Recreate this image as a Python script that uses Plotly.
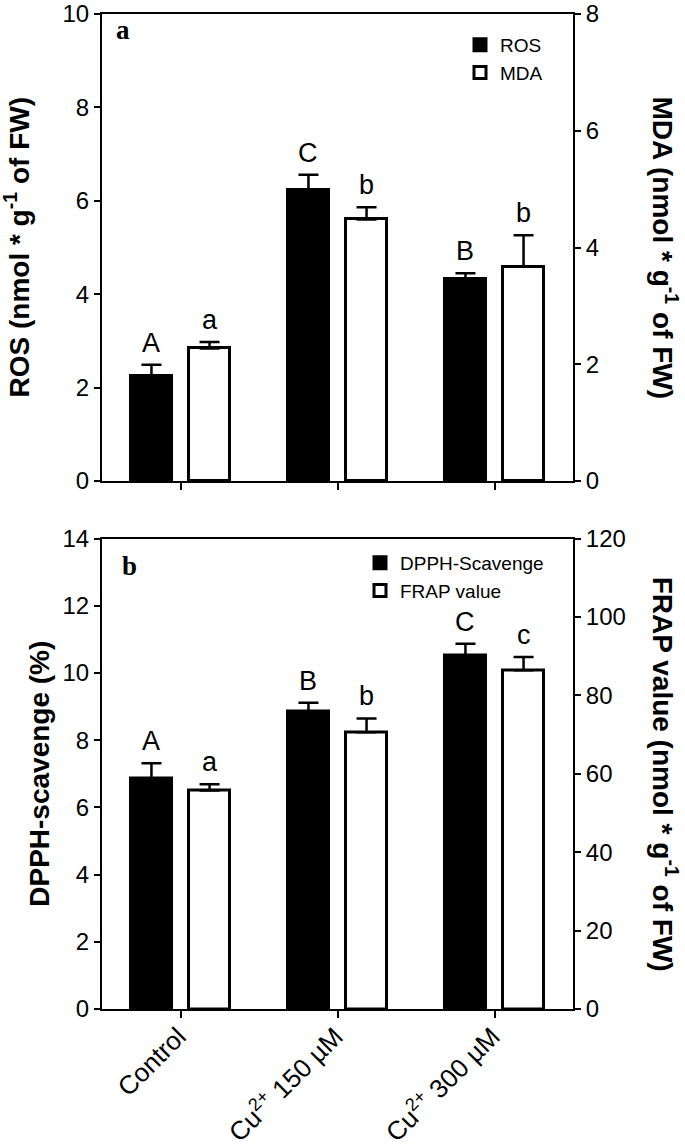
import plotly.graph_objects as go

# ---------------- data ----------------
categories = ["Control", "Cu<sup>2+</sup> 150 µM", "Cu<sup>2+</sup> 300 µM"]

ros = [2.24, 6.23, 4.33]
ros_err = [0.25, 0.33, 0.12]
ros_letters = ["A", "C", "B"]

mda = [2.27, 4.48, 3.67]
mda_err = [0.11, 0.21, 0.54]
mda_letters = ["a", "b", "b"]

dpph = [6.85, 8.84, 10.51]
dpph_err = [0.46, 0.27, 0.36]
dpph_letters = ["A", "B", "C"]

frap = [55.7, 70.6, 86.4]
frap_err = [1.6, 3.5, 3.4]
frap_letters = ["a", "b", "c"]

# ---------------- layout helpers ----------------
W, H = 685, 1145
def px(x):
    return x / W
def py(y):
    return 1 - y / H

FONT = "Arial, Liberation Sans, sans-serif"
BAR_W = 0.26
OFF_L = -0.315
OFF_R = 0.055
LINE_W = 2.5

fig = go.Figure()

def add_bars(vals, errs, fill, name, xax, yax, offset, legend):
    fig.add_trace(go.Bar(
        x=categories, y=vals, name=name,
        xaxis=xax, yaxis=yax,
        width=BAR_W, offset=offset,
        marker=dict(color=fill, line=dict(color="black", width=LINE_W + 0.5)),
        error_y=dict(type="data", array=errs, arrayminus=[0] * len(errs),
                     symmetric=False, color="black", thickness=LINE_W, width=10),
        legend=legend,
    ))

add_bars(ros, ros_err, "black", "ROS", "x", "y", OFF_L, "legend")
add_bars(mda, mda_err, "white", "MDA", "x", "y2", OFF_R, "legend")
add_bars(dpph, dpph_err, "black", "DPPH-Scavenge", "x2", "y3", OFF_L, "legend2")
add_bars(frap, frap_err, "white", "FRAP value", "x2", "y4", OFF_R, "legend2")

annotations = []
def add_letters(vals, errs, letters, offset, xref, yref):
    for i, (v, e, t) in enumerate(zip(vals, errs, letters)):
        annotations.append(dict(
            x=i + offset + BAR_W / 2, y=v + e, xref=xref, yref=yref,
            text=t, showarrow=False, yanchor="bottom", xanchor="center",
            yshift=5, font=dict(family=FONT, size=27, color="black")))

add_letters(ros, ros_err, ros_letters, OFF_L, "x", "y")
add_letters(mda, mda_err, mda_letters, OFF_R, "x", "y2")
add_letters(dpph, dpph_err, dpph_letters, OFF_L, "x2", "y3")
add_letters(frap, frap_err, frap_letters, OFF_R, "x2", "y4")

TOP = (14, 481)
BOT = (538.5, 1009)

def title(text, x, yc, angle):
    annotations.append(dict(
        x=px(x), y=py(yc), xref="paper", yref="paper", text=text,
        textangle=angle, showarrow=False, xanchor="center", yanchor="middle",
        font=dict(family=FONT, size=28, color="black", weight="bold")))

title("ROS (nmol * g<sup>-1</sup> of FW)", 17, (TOP[0] + TOP[1]) / 2, -90)
title("MDA (nmol * g<sup>-1</sup> of FW)", 665, (TOP[0] + TOP[1]) / 2, 90)
title("DPPH-scavenge (%)", 40, (BOT[0] + BOT[1]) / 2, -90)
title("FRAP value (nmol * g<sup>-1</sup> of FW)", 665, (BOT[0] + BOT[1]) / 2, 90)

for t, x, y in [("a", 123, 30), ("b", 129, 566)]:
    annotations.append(dict(
        x=px(x), y=py(y), xref="paper", yref="paper", text=t, showarrow=False,
        xanchor="center", yanchor="middle",
        font=dict(family="Times New Roman, Liberation Serif, serif", size=27,
                  color="black", weight="bold")))

axis_common = dict(showline=True, linecolor="black", linewidth=2, ticks="outside",
                   tickcolor="black", tickwidth=2, showgrid=False, zeroline=False,
                   automargin=False)
ytick_font = dict(family=FONT, size=24, color="black")

xdom = [px(102), px(573)]
fig.update_layout(
    width=W, height=H, margin=dict(l=0, r=0, t=0, b=0),
    paper_bgcolor="white", plot_bgcolor="white",
    barmode="overlay", bargap=0,
    xaxis=dict(domain=xdom, anchor="y", type="category", range=[-0.5, 2.5],
               showticklabels=False, mirror=True, ticklen=7, **axis_common),
    yaxis=dict(domain=[py(TOP[1]), py(TOP[0])], anchor="x", range=[0, 10],
               dtick=2, ticklen=6, tickfont=ytick_font, **axis_common),
    yaxis2=dict(overlaying="y", side="right", anchor="x", range=[0, 8], dtick=2,
                ticklen=6, tickfont=ytick_font, **axis_common),
    xaxis2=dict(domain=xdom, anchor="y3", type="category", range=[-0.5, 2.5],
                tickangle=-45, tickfont=dict(family=FONT, size=26, color="black"),
                ticklabelstandoff=-7, ticklabelshift=-2,
                mirror=True, ticklen=7, **axis_common),
    yaxis3=dict(domain=[py(BOT[1]), py(BOT[0])], anchor="x2", range=[0, 14],
                dtick=2, ticklen=6, tickfont=ytick_font, **axis_common),
    yaxis4=dict(overlaying="y3", side="right", anchor="x2", range=[0, 120],
                dtick=20, ticklen=6, tickfont=ytick_font, **axis_common),
    legend=dict(x=px(460), y=py(26), xanchor="left", yanchor="top",
                font=dict(family=FONT, size=19, color="black"),
                bgcolor="rgba(0,0,0,0)", traceorder="normal"),
    legend2=dict(x=px(360), y=py(544), xanchor="left", yanchor="top",
                 font=dict(family=FONT, size=19, color="black"),
                 bgcolor="rgba(0,0,0,0)", traceorder="normal"),
    annotations=annotations,
    showlegend=True,
)

fig.write_html("out.html", config={"displayModeBar": False},
               post_script="document.body.style.margin='0';")
